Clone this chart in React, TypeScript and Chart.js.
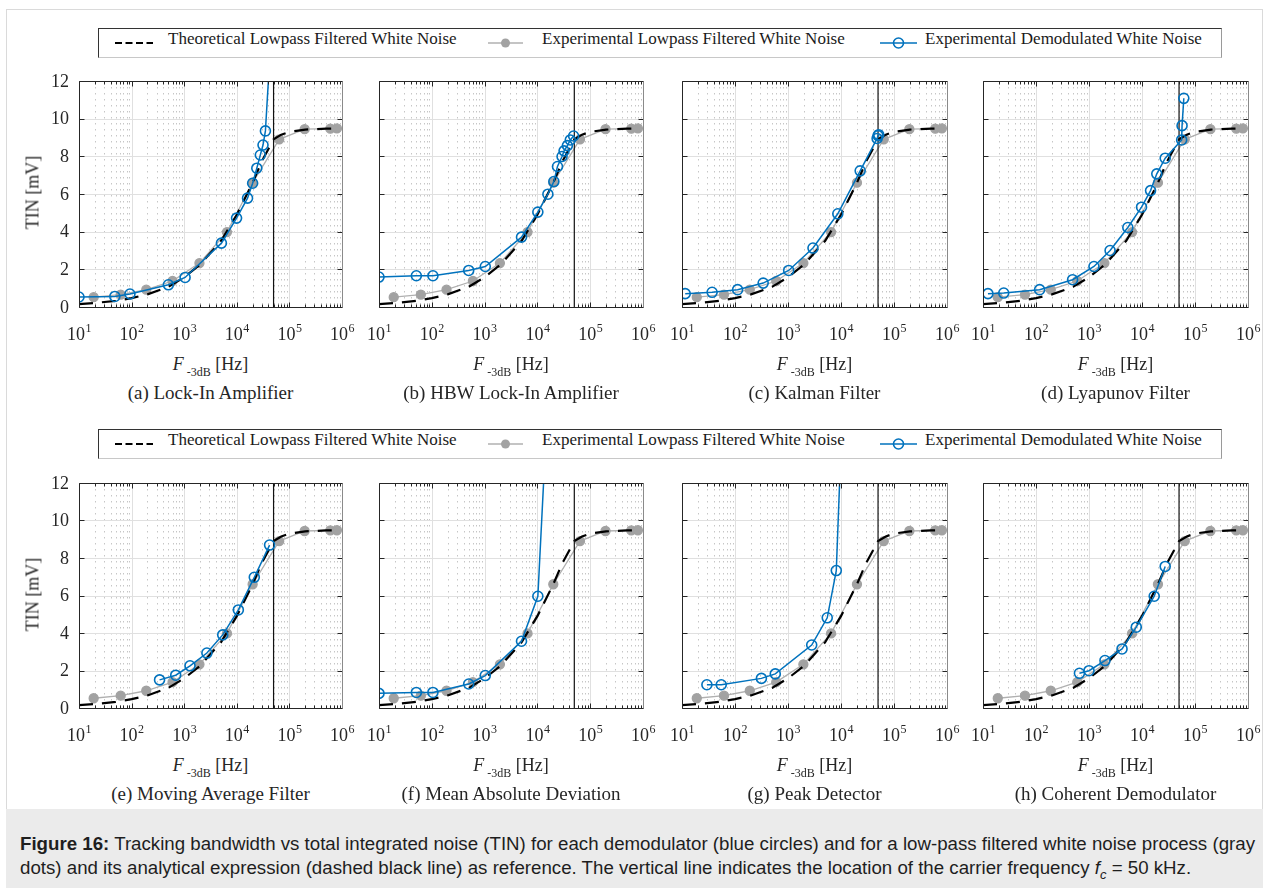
import React, { useEffect, useRef } from "react";
import { Chart, registerables } from "chart.js";

Chart.register(...registerables);

// ---- data -------------------------------------------------------------
// Analytical TIN of low-pass filtered white noise
const theoryFreq = [10, 20, 50, 100, 200, 500, 1000, 2000, 5000, 10000, 20000, 30000, 50000, 70000, 100000, 200000, 500000, 800000];
const theoryTIN = [0.15, 0.21, 0.33, 0.47, 0.67, 1.07, 1.58, 2.25, 3.5, 4.9, 6.6, 7.75, 8.9, 9.15, 9.3, 9.42, 9.47, 9.48];

// Measured TIN of low-pass filtered white noise
const grayFreq = [19, 62, 190, 600, 1950, 6500, 20000, 64000, 195000, 600000, 800000];
const grayTIN = [0.52, 0.66, 0.92, 1.38, 2.33, 3.98, 6.6, 8.9, 9.44, 9.47, 9.48];

// Demodulated white noise, one pair of arrays per demodulator
const lockInFreq = [10, 48, 93, 500, 1040, 5100, 9900, 16000, 20000, 24000, 28000, 31500, 35000, 45000];
const lockInTIN = [0.53, 0.56, 0.69, 1.18, 1.57, 3.39, 4.72, 5.78, 6.57, 7.37, 8.07, 8.6, 9.35, 14.5];

const hbwFreq = [10, 51, 105, 500, 1030, 5000, 10200, 15800, 20500, 24000, 29300, 32000, 37000, 42000, 48500];
const hbwTIN = [1.59, 1.66, 1.66, 1.94, 2.15, 3.71, 5.04, 5.99, 6.66, 7.46, 7.99, 8.29, 8.57, 8.87, 9.08];

const kalmanFreq = [11.5, 37, 112, 340, 1030, 2960, 8700, 23000, 48000, 50000, 51500];
const kalmanTIN = [0.71, 0.78, 0.92, 1.27, 1.94, 3.13, 4.95, 7.23, 8.95, 9.1, 9.15];

const lyapunovFreq = [12.4, 24.6, 117, 490, 1240, 2500, 5400, 9800, 14500, 19000, 27400, 56000, 57000, 61500];
const lyapunovTIN = [0.71, 0.74, 0.92, 1.45, 2.15, 3.0, 4.22, 5.3, 6.18, 7.07, 7.9, 8.87, 9.63, 11.08];

const movingAvgFreq = [340, 690, 1290, 2700, 5400, 10700, 21500, 42000];
const movingAvgTIN = [1.5, 1.75, 2.25, 2.93, 3.9, 5.23, 6.97, 8.69];

const madFreq = [10, 51, 105, 500, 1030, 5000, 10200, 15000];
const madTIN = [0.78, 0.83, 0.83, 1.28, 1.73, 3.56, 5.96, 15.3];

const peakFreq = [29.5, 55, 315, 575, 2800, 5500, 8150, 10000];
const peakTIN = [1.24, 1.24, 1.58, 1.82, 3.36, 4.81, 7.33, 14];

const coherentFreq = [660, 1000, 2000, 4200, 7800, 17000, 27400];
const coherentTIN = [1.85, 1.99, 2.53, 3.15, 4.31, 5.96, 7.55];

// Carrier frequency
const carrierFreq = 50000;

// Axis ticks
const decadeTicks = [10, 100, 1000, 10000, 100000, 1000000];
const decadeExponents = ["1", "2", "3", "4", "5", "6"];
const yTicks = [0, 2, 4, 6, 8, 10, 12];
const yTickLabels = ["0", "2", "4", "6", "8", "10", "12"];
const minorMultipliers = [2, 3, 4, 5, 6, 7, 8, 9];

const panelTitles = [
  "(a) Lock-In Amplifier",
  "(b) HBW Lock-In Amplifier",
  "(c) Kalman Filter",
  "(d) Lyapunov Filter",
  "(e) Moving Average Filter",
  "(f) Mean Absolute Deviation",
  "(g) Peak Detector",
  "(h) Coherent Demodulator",
];
const panelFreqs = [lockInFreq, hbwFreq, kalmanFreq, lyapunovFreq, movingAvgFreq, madFreq, peakFreq, coherentFreq];
const panelTINs = [lockInTIN, hbwTIN, kalmanTIN, lyapunovTIN, movingAvgTIN, madTIN, peakTIN, coherentTIN];

const legendLabels = [
  "Theoretical Lowpass Filtered White Noise",
  "Experimental Lowpass Filtered White Noise",
  "Experimental Demodulated White Noise",
];

// ---- layout -----------------------------------------------------------
const COL_LEFT = [79, 379, 682, 983];
const COL_RIGHT = [342, 643, 947, 1248];
const ROW_TOP = [81, 483];
const ROW_BOTTOM = [307, 708];
const LEGEND_TOP = [28, 429];

const PAD_L = 78;
const PAD_T = 12;
const PAD_R = 20;
const PAD_B = 42;

const BLUE = "#0072BD";
const GRAY = "#a2a2a2";
const INK = "#262626";
const SERIF = "'Liberation Serif', 'Times New Roman', serif";

const pts = (xs: number[], ys: number[]) => xs.map((x, i) => ({ x, y: ys[i] }));

// Grid, box, inward ticks and tick labels in a classic plotting style
const framePlugin = {
  id: "frame",
  beforeDatasetsDraw(chart: any) {
    const { ctx, chartArea: a, scales } = chart;
    const xs = scales.x;
    const ys = scales.y;
    ctx.save();
    ctx.lineWidth = 1;
    // minor vertical grid (dotted)
    ctx.strokeStyle = "#c6c6c6";
    ctx.setLineDash([1.5, 4.5]);
    for (let d = 0; d < decadeTicks.length - 1; d++) {
      for (const m of minorMultipliers) {
        const px = Math.round(xs.getPixelForValue(decadeTicks[d] * m)) + 0.5;
        ctx.beginPath();
        ctx.moveTo(px, a.top);
        ctx.lineTo(px, a.bottom);
        ctx.stroke();
      }
    }
    ctx.setLineDash([]);
    // major grid
    ctx.strokeStyle = "#e0e0e0";
    for (let d = 1; d < decadeTicks.length - 1; d++) {
      const px = Math.round(xs.getPixelForValue(decadeTicks[d])) + 0.5;
      ctx.beginPath();
      ctx.moveTo(px, a.top);
      ctx.lineTo(px, a.bottom);
      ctx.stroke();
    }
    for (let i = 1; i < yTicks.length - 1; i++) {
      const py = Math.round(ys.getPixelForValue(yTicks[i])) + 0.5;
      ctx.beginPath();
      ctx.moveTo(a.left, py);
      ctx.lineTo(a.right, py);
      ctx.stroke();
    }
    ctx.restore();
  },
  afterDatasetsDraw(chart: any) {
    const { ctx, chartArea: a, scales } = chart;
    const xs = scales.x;
    const ys = scales.y;
    const L = Math.round(a.left) + 0.5;
    const R = Math.round(a.right) + 0.5;
    const T = Math.round(a.top) + 0.5;
    const B = Math.round(a.bottom) + 0.5;
    ctx.save();
    ctx.lineWidth = 1;
    ctx.strokeStyle = INK;
    // inward ticks
    ctx.beginPath();
    for (let d = 0; d < decadeTicks.length; d++) {
      const px = Math.round(xs.getPixelForValue(decadeTicks[d])) + 0.5;
      ctx.moveTo(px, B); ctx.lineTo(px, B - 5);
      ctx.moveTo(px, T); ctx.lineTo(px, T + 5);
      if (d < decadeTicks.length - 1) {
        for (const m of minorMultipliers) {
          const qx = Math.round(xs.getPixelForValue(decadeTicks[d] * m)) + 0.5;
          ctx.moveTo(qx, B); ctx.lineTo(qx, B - 3);
          ctx.moveTo(qx, T); ctx.lineTo(qx, T + 3);
        }
      }
    }
    for (const v of yTicks) {
      const py = Math.round(ys.getPixelForValue(v)) + 0.5;
      ctx.moveTo(L, py); ctx.lineTo(L + 5, py);
      ctx.moveTo(R, py); ctx.lineTo(R - 5, py);
    }
    ctx.stroke();
    // box
    ctx.beginPath();
    ctx.moveTo(R, T); ctx.lineTo(L, T); ctx.lineTo(L, B); ctx.lineTo(R, B);
    ctx.stroke();
    ctx.strokeStyle = "#8a8a8a";
    ctx.beginPath();
    ctx.moveTo(R, T); ctx.lineTo(R, B);
    ctx.stroke();
    ctx.restore();
  },
  afterDraw(chart: any, _args: any, opts: any) {
    const { ctx, chartArea: a, scales } = chart;
    const xs = scales.x;
    const ys = scales.y;
    ctx.save();
    ctx.fillStyle = INK;
    ctx.textBaseline = "alphabetic";
    const baseFont = `18px ${SERIF}`;
    const expFont = `12px ${SERIF}`;
    const baseY = a.bottom + 33;
    decadeTicks.forEach((v, i) => {
      const px = xs.getPixelForValue(v);
      ctx.font = baseFont;
      const wb = ctx.measureText("10").width;
      ctx.font = expFont;
      const we = ctx.measureText(decadeExponents[i]).width;
      const x0 = px - (wb + we) / 2;
      ctx.font = baseFont;
      ctx.fillText("10", x0, baseY);
      ctx.font = expFont;
      ctx.fillText(decadeExponents[i], x0 + wb + 0.5, baseY - 8);
    });
    if (opts && opts.showY) {
      ctx.font = baseFont;
      ctx.textAlign = "right";
      ctx.textBaseline = "middle";
      yTicks.forEach((v, i) => {
        ctx.fillText(yTickLabels[i], a.left - 10, ys.getPixelForValue(v) + 1);
      });
    }
    ctx.restore();
  },
};

function Panel({ index }: { index: number }) {
  const ref = useRef<HTMLCanvasElement>(null);
  const col = index % 4;
  const row = Math.floor(index / 4);
  const L = COL_LEFT[col];
  const T = ROW_TOP[row];
  const W = COL_RIGHT[col] - L;
  const H = ROW_BOTTOM[row] - T;
  const cw = W + PAD_L + PAD_R;
  const ch = H + PAD_T + PAD_B;

  useEffect(() => {
    const chart = new Chart(ref.current as HTMLCanvasElement, {
      type: "line",
      data: {
        datasets: [
          {
            label: legendLabels[2],
            data: pts(panelFreqs[index], panelTINs[index]),
            borderColor: BLUE,
            borderWidth: 1.5,
            pointRadius: 5,
            pointBorderWidth: 1.6,
            pointBackgroundColor: "rgba(0,0,0,0)",
            pointBorderColor: BLUE,
            order: 0,
          },
          {
            label: "carrier",
            data: [{ x: carrierFreq, y: 0 }, { x: carrierFreq, y: 12 }],
            borderColor: "#111",
            borderWidth: 1.2,
            pointRadius: 0,
            order: 1,
          },
          {
            label: legendLabels[0],
            data: pts(theoryFreq, theoryTIN),
            borderColor: "#000",
            borderWidth: 2.2,
            borderDash: [14, 9],
            pointRadius: 0,
            order: 2,
          },
          {
            label: legendLabels[1],
            data: pts(grayFreq, grayTIN),
            borderColor: "#b0b0b0",
            borderWidth: 1.3,
            pointRadius: 4.5,
            pointBackgroundColor: GRAY,
            pointBorderColor: GRAY,
            order: 3,
          },
        ],
      },
      options: {
        animation: false,
        responsive: false,
        maintainAspectRatio: false,
        events: [],
        layout: { padding: { left: PAD_L, top: PAD_T, right: PAD_R, bottom: PAD_B } },
        plugins: {
          legend: { display: false },
          tooltip: { enabled: false },
          frame: { showY: col === 0 },
        } as any,
        scales: {
          x: { type: "logarithmic", min: 10, max: 1000000, display: false },
          y: { type: "linear", min: 0, max: 12, display: false },
        },
      },
      plugins: [framePlugin],
    });
    return () => chart.destroy();
  }, [index]);

  const cx = L + W / 2;
  const B = ROW_BOTTOM[row];
  return (
    <>
      <canvas
        ref={ref}
        width={cw}
        height={ch}
        style={{ position: "absolute", left: L - PAD_L, top: T - PAD_T, width: cw, height: ch }}
      />
      <div
        style={{
          position: "absolute",
          left: cx - 150,
          width: 300,
          top: B + 59 - 12,
          lineHeight: "24px",
          textAlign: "center",
          font: `18px ${SERIF}`,
          color: INK,
          whiteSpace: "nowrap",
        }}
      >
        <span style={{ fontStyle: "italic" }}>F</span>
        <span style={{ fontSize: 12, position: "relative", top: 6, marginLeft: 3 }}>-3dB</span> [Hz]
      </div>
      <div
        style={{
          position: "absolute",
          left: cx - 150,
          width: 300,
          top: B + 87 - 12,
          lineHeight: "24px",
          textAlign: "center",
          font: `19px ${SERIF}`,
          color: INK,
          whiteSpace: "nowrap",
        }}
      >
        {panelTitles[index]}
      </div>
      {col === 0 && (
        <div
          style={{
            position: "absolute",
            left: 33 - 60,
            top: (T + B) / 2 - 12,
            width: 120,
            lineHeight: "24px",
            textAlign: "center",
            transform: "rotate(-90deg)",
            font: `18px ${SERIF}`,
            color: INK,
            whiteSpace: "nowrap",
          }}
        >
          TIN [mV]
        </div>
      )}
    </>
  );
}

function Legend({ top }: { top: number }) {
  const h = 30;
  const cy = h / 2;
  const textStyle: React.CSSProperties = {
    position: "absolute",
    top: 0,
    lineHeight: `${h}px`,
    font: `17px ${SERIF}`,
    color: "#1a1a1a",
    whiteSpace: "nowrap",
  };
  return (
    <div
      style={{
        position: "absolute",
        left: 98,
        top,
        width: 1124,
        height: h,
        background: "#fff",
        borderTop: "1px solid #333",
        borderLeft: "1px solid #333",
        borderBottom: "1px solid #c8c8c8",
        borderRight: "1px solid #9a9a9a",
        boxSizing: "border-box",
      }}
    >
      <svg width={1124} height={h} style={{ position: "absolute", left: -1, top: -1 }}>
        <line x1={17} y1={cy} x2={55} y2={cy} stroke="#000" strokeWidth={2} strokeDasharray="7 3.5" />
        <line x1={390} y1={cy} x2={425} y2={cy} stroke="#b0b0b0" strokeWidth={1.3} />
        <circle cx={407.5} cy={cy} r={4.5} fill={GRAY} />
        <line x1={782} y1={cy} x2={819} y2={cy} stroke={BLUE} strokeWidth={1.5} />
        <circle cx={800.5} cy={cy} r={5} fill="none" stroke={BLUE} strokeWidth={1.6} />
      </svg>
      <div style={{ ...textStyle, left: 69 }}>{legendLabels[0]}</div>
      <div style={{ ...textStyle, left: 443 }}>{legendLabels[1]}</div>
      <div style={{ ...textStyle, left: 826 }}>{legendLabels[2]}</div>
    </div>
  );
}

export default function App() {
  return (
    <div style={{ position: "absolute", left: 0, top: 0, width: 1269, height: 888, background: "#fff", overflow: "hidden" }}>
      <div
        style={{
          position: "absolute",
          left: 6,
          top: 9,
          width: 1257,
          height: 801,
          border: "1px solid #dadada",
          borderBottom: "none",
          boxSizing: "border-box",
        }}
      />
      <Legend top={LEGEND_TOP[0]} />
      <Legend top={LEGEND_TOP[1]} />
      {panelTitles.map((_, i) => (
        <Panel key={i} index={i} />
      ))}
      <div
        style={{
          position: "absolute",
          left: 6,
          top: 809,
          width: 1257,
          height: 79,
          background: "#ebebeb",
        }}
      >
        <div
          style={{
            position: "absolute",
            left: 14,
            top: 23,
            font: "18.7px 'Liberation Sans', Arial, sans-serif",
            lineHeight: "24px",
            color: "#1e1e1e",
            whiteSpace: "nowrap",
          }}
        >
          <b>Figure 16:</b> Tracking bandwidth vs total integrated noise (TIN) for each demodulator (blue circles) and for a low-pass filtered white noise process (gray
          <br />
          dots) and its analytical expression (dashed black line) as reference. The vertical line indicates the location of the carrier frequency{" "}
          <i>
            f<sub style={{ fontSize: 13, lineHeight: 0 }}>c</sub>
          </i>{" "}
          = 50 kHz.
        </div>
      </div>
    </div>
  );
}
